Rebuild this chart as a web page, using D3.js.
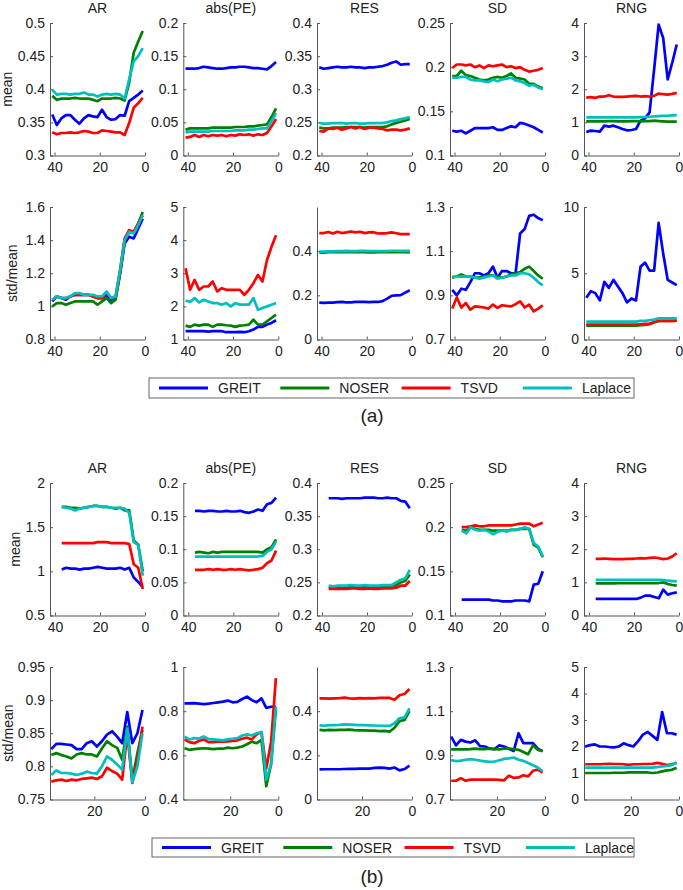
<!DOCTYPE html>
<html><head><meta charset="utf-8">
<script src="https://cdn.jsdelivr.net/npm/d3@7"></script>
<style>
body{margin:0;background:#fff}
svg{display:block}
text{font-family:"Liberation Sans",Arial,Helvetica,sans-serif}
</style>
</head><body>
<svg id="chart" width="683" height="890"></svg>
<script>
// ---------------- data ----------------
const methods = ["GREIT","NOSER","TSVD","Laplace"];
const methodColors = ["#0000ff","#008000","#ff0000","#00bfbf"];
const metrics = ["AR","abs(PE)","RES","SD","RNG"];

const xA = [41,39,37,35,33,31,29,27,25,23,21,19,17,15,13,11,9,7,5,3,1];
const xB = [37,35,33,31,29,27,25,23,21,19,17,15,13,11,9,7,5,3,1];
const xC = [39,37,35,33,31,29,27,25,23,21,19,17,15,13,11,9,7,5,3,1];

const xTicksFull = [40,20,0];
const xTicksShort = [20,0];

// (a) mean
const a_mean_AR = {
  GREIT:  [0.362,0.346,0.356,0.361,0.361,0.354,0.348,0.356,0.361,0.359,0.358,0.369,0.358,0.354,0.355,0.361,0.36,0.382,0.387,0.392,0.398],
  NOSER:  [0.39,0.384,0.386,0.386,0.386,0.387,0.386,0.386,0.386,0.384,0.382,0.386,0.386,0.386,0.387,0.386,0.383,0.41,0.455,0.472,0.488],
  TSVD:   [0.335,0.332,0.334,0.334,0.335,0.334,0.335,0.337,0.336,0.334,0.334,0.338,0.337,0.336,0.335,0.335,0.331,0.349,0.372,0.379,0.387],
  Laplace:[0.399,0.392,0.393,0.393,0.392,0.393,0.393,0.395,0.392,0.392,0.389,0.392,0.393,0.392,0.393,0.392,0.386,0.415,0.442,0.45,0.462]
};
const a_mean_PE = {
  GREIT:  [0.131,0.131,0.131,0.132,0.134,0.133,0.132,0.131,0.131,0.132,0.133,0.133,0.134,0.134,0.133,0.132,0.132,0.131,0.13,0.135,0.141],
  NOSER:  [0.039,0.041,0.041,0.041,0.041,0.041,0.042,0.042,0.042,0.042,0.042,0.043,0.043,0.043,0.044,0.044,0.045,0.046,0.047,0.058,0.071],
  TSVD:   [0.027,0.028,0.031,0.028,0.031,0.029,0.031,0.03,0.031,0.029,0.031,0.03,0.032,0.031,0.032,0.03,0.032,0.031,0.034,0.044,0.055],
  Laplace:[0.035,0.036,0.036,0.036,0.036,0.036,0.037,0.037,0.037,0.037,0.037,0.038,0.038,0.038,0.039,0.039,0.04,0.041,0.041,0.052,0.064]
};
const a_mean_RES = {
  GREIT:  [0.333,0.331,0.332,0.333,0.334,0.333,0.333,0.334,0.333,0.333,0.332,0.333,0.333,0.334,0.335,0.337,0.34,0.342,0.337,0.338,0.338],
  NOSER:  [0.242,0.241,0.241,0.242,0.242,0.242,0.243,0.243,0.243,0.243,0.242,0.243,0.243,0.243,0.243,0.244,0.247,0.249,0.251,0.253,0.255],
  TSVD:   [0.237,0.236,0.241,0.24,0.242,0.239,0.241,0.243,0.241,0.243,0.24,0.242,0.242,0.241,0.24,0.238,0.239,0.239,0.238,0.239,0.241],
  Laplace:[0.249,0.248,0.248,0.249,0.249,0.249,0.248,0.249,0.249,0.248,0.248,0.249,0.249,0.249,0.249,0.25,0.252,0.253,0.255,0.256,0.258]
};
const a_mean_SD = {
  GREIT:  [0.128,0.127,0.128,0.125,0.128,0.131,0.131,0.131,0.131,0.132,0.129,0.129,0.131,0.133,0.132,0.137,0.136,0.134,0.132,0.129,0.126],
  NOSER:  [0.19,0.19,0.196,0.191,0.19,0.188,0.186,0.185,0.186,0.188,0.189,0.188,0.19,0.193,0.188,0.187,0.186,0.181,0.181,0.178,0.176],
  TSVD:   [0.199,0.203,0.203,0.202,0.203,0.2,0.202,0.199,0.202,0.201,0.202,0.203,0.2,0.201,0.199,0.2,0.197,0.195,0.196,0.197,0.199],
  Laplace:[0.188,0.188,0.189,0.189,0.186,0.185,0.185,0.184,0.183,0.186,0.184,0.186,0.187,0.188,0.185,0.184,0.182,0.179,0.18,0.177,0.175]
};
const a_mean_RNG = {
  GREIT:  [0.71,0.75,0.74,0.72,0.9,0.87,0.9,0.85,0.8,0.76,0.77,0.8,1.05,1.12,1.3,2.6,3.95,3.55,2.3,2.8,3.35],
  NOSER:  [1.03,1.03,1.03,1.03,1.03,1.04,1.04,1.03,1.03,1.03,1.04,1.04,1.03,1.04,1.04,1.05,1.04,1.03,1.02,1.02,1.02],
  TSVD:   [1.75,1.76,1.74,1.78,1.78,1.82,1.78,1.77,1.77,1.78,1.79,1.8,1.78,1.79,1.78,1.8,1.87,1.85,1.84,1.86,1.89],
  Laplace:[1.15,1.15,1.15,1.15,1.15,1.15,1.15,1.15,1.15,1.15,1.15,1.15,1.16,1.16,1.17,1.18,1.19,1.2,1.2,1.21,1.22]
};

// (a) std/mean
const a_std_AR = {
  GREIT:  [1.03,1.06,1.05,1.04,1.06,1.07,1.07,1.07,1.07,1.06,1.05,1.05,1.07,1.04,1.05,1.2,1.38,1.42,1.41,1.47,1.53],
  NOSER:  [1.0,1.02,1.02,1.01,1.02,1.03,1.03,1.03,1.03,1.03,1.01,1.03,1.05,1.02,1.04,1.2,1.4,1.45,1.45,1.5,1.57],
  TSVD:   [1.04,1.06,1.05,1.05,1.06,1.07,1.07,1.07,1.07,1.06,1.05,1.05,1.08,1.05,1.06,1.22,1.41,1.46,1.45,1.5,1.55],
  Laplace:[1.04,1.06,1.05,1.05,1.06,1.08,1.08,1.07,1.07,1.07,1.06,1.06,1.09,1.05,1.06,1.22,1.4,1.45,1.44,1.49,1.55]
};
const a_std_PE = {
  GREIT:  [1.25,1.25,1.25,1.25,1.25,1.24,1.25,1.25,1.25,1.22,1.22,1.22,1.23,1.22,1.25,1.3,1.38,1.38,1.45,1.5,1.58],
  NOSER:  [1.42,1.38,1.45,1.42,1.45,1.45,1.38,1.45,1.45,1.43,1.42,1.38,1.42,1.43,1.45,1.6,1.45,1.45,1.55,1.65,1.75],
  TSVD:   [3.15,2.5,2.8,2.5,2.6,2.6,2.75,2.45,2.55,2.5,2.5,2.5,2.5,2.35,2.5,2.7,2.95,2.75,3.4,3.8,4.15],
  Laplace:[2.18,2.13,2.25,2.12,2.2,2.15,2.1,2.1,2.05,2.1,2.0,2.1,2.05,2.05,2.05,2.25,1.9,1.95,2.0,2.05,2.1]
};
const a_std_RES = {
  GREIT:  [0.167,0.166,0.167,0.167,0.169,0.17,0.168,0.168,0.17,0.17,0.17,0.169,0.17,0.17,0.174,0.185,0.198,0.2,0.201,0.212,0.223],
  NOSER:  [0.394,0.393,0.395,0.395,0.395,0.396,0.396,0.396,0.396,0.397,0.396,0.394,0.394,0.395,0.395,0.395,0.397,0.396,0.395,0.395,0.394],
  TSVD:   [0.482,0.482,0.487,0.48,0.488,0.482,0.485,0.489,0.485,0.488,0.482,0.485,0.486,0.48,0.481,0.482,0.485,0.481,0.477,0.477,0.477],
  Laplace:[0.398,0.398,0.399,0.399,0.4,0.4,0.401,0.4,0.4,0.401,0.401,0.4,0.4,0.4,0.4,0.4,0.402,0.402,0.401,0.401,0.401]
};
const a_std_SD = {
  GREIT:  [0.925,0.9,0.93,0.925,0.96,1.0,1.0,0.99,1.0,1.03,0.98,1.01,1.01,1.0,1.0,1.18,1.2,1.26,1.265,1.25,1.24],
  NOSER:  [0.98,0.985,0.995,0.985,0.985,0.98,0.98,0.985,0.99,0.99,0.985,0.98,0.985,0.995,1.0,1.005,1.02,1.03,1.01,0.99,0.975],
  TSVD:   [0.84,0.89,0.845,0.865,0.835,0.85,0.848,0.845,0.84,0.858,0.843,0.855,0.852,0.85,0.86,0.873,0.845,0.858,0.827,0.84,0.855],
  Laplace:[0.985,0.985,0.985,0.985,0.985,0.98,0.975,0.98,0.985,0.99,0.975,0.98,0.985,0.99,0.99,1.0,1.0,0.995,0.98,0.96,0.945]
};
const a_std_RNG = {
  GREIT:  [3.15,3.65,3.5,2.95,4.35,3.9,4.5,4.0,3.5,2.8,3.1,2.95,5.5,5.8,5.2,5.2,8.8,6.5,4.5,4.3,4.1],
  NOSER:  [1.05,1.05,1.05,1.05,1.05,1.05,1.05,1.05,1.05,1.05,1.05,1.05,1.08,1.1,1.15,1.3,1.4,1.4,1.4,1.4,1.42],
  TSVD:   [1.12,1.12,1.12,1.12,1.12,1.12,1.12,1.12,1.12,1.12,1.12,1.12,1.15,1.18,1.2,1.3,1.4,1.4,1.4,1.4,1.42],
  Laplace:[1.35,1.35,1.35,1.35,1.35,1.35,1.35,1.35,1.35,1.35,1.35,1.35,1.4,1.4,1.45,1.5,1.6,1.6,1.6,1.6,1.6]
};

// (b) mean
const b_mean_AR = {
  GREIT:  [1.02,1.04,1.03,1.03,1.02,1.03,1.03,1.04,1.05,1.04,1.03,1.03,1.03,1.04,1.02,1.04,0.93,0.88,0.82],
  NOSER:  [1.73,1.73,1.72,1.72,1.71,1.72,1.73,1.74,1.74,1.73,1.73,1.72,1.71,1.72,1.69,1.69,1.35,1.3,1.0],
  TSVD:   [1.32,1.32,1.32,1.32,1.32,1.32,1.32,1.32,1.33,1.33,1.33,1.32,1.32,1.32,1.32,1.31,1.08,1.04,0.8],
  Laplace:[1.73,1.72,1.71,1.69,1.71,1.72,1.73,1.74,1.74,1.73,1.73,1.72,1.72,1.72,1.71,1.66,1.33,1.3,0.95]
};
const b_mean_PE = {
  GREIT:  [0.158,0.158,0.157,0.158,0.158,0.157,0.157,0.158,0.157,0.157,0.158,0.156,0.155,0.157,0.16,0.158,0.168,0.17,0.178],
  NOSER:  [0.095,0.096,0.095,0.094,0.096,0.095,0.096,0.096,0.096,0.096,0.096,0.096,0.096,0.096,0.096,0.095,0.1,0.103,0.115],
  TSVD:   [0.069,0.069,0.069,0.07,0.069,0.07,0.069,0.069,0.07,0.069,0.07,0.069,0.068,0.069,0.07,0.072,0.079,0.083,0.098],
  Laplace:[0.089,0.089,0.089,0.089,0.089,0.089,0.089,0.089,0.089,0.089,0.089,0.089,0.089,0.089,0.089,0.09,0.096,0.1,0.112]
};
const b_mean_RES = {
  GREIT:  [0.377,0.377,0.377,0.376,0.377,0.377,0.377,0.377,0.378,0.378,0.378,0.377,0.377,0.378,0.377,0.377,0.373,0.372,0.362],
  NOSER:  [0.242,0.242,0.243,0.242,0.243,0.243,0.243,0.242,0.243,0.243,0.243,0.242,0.243,0.243,0.243,0.246,0.25,0.252,0.262],
  TSVD:   [0.24,0.24,0.24,0.24,0.24,0.241,0.241,0.24,0.24,0.241,0.24,0.24,0.241,0.241,0.241,0.242,0.245,0.245,0.252],
  Laplace:[0.245,0.244,0.245,0.245,0.245,0.246,0.245,0.245,0.246,0.245,0.245,0.245,0.246,0.246,0.246,0.25,0.254,0.256,0.269]
};
const b_mean_SD = {
  GREIT:  [0.118,0.118,0.118,0.118,0.118,0.118,0.118,0.117,0.117,0.116,0.116,0.116,0.117,0.117,0.117,0.116,0.135,0.136,0.15],
  NOSER:  [0.197,0.196,0.2,0.198,0.197,0.197,0.197,0.196,0.196,0.196,0.196,0.197,0.197,0.198,0.198,0.198,0.18,0.177,0.166],
  TSVD:   [0.2,0.2,0.201,0.202,0.201,0.201,0.202,0.202,0.202,0.202,0.202,0.202,0.203,0.204,0.204,0.204,0.201,0.203,0.205],
  Laplace:[0.196,0.193,0.2,0.197,0.196,0.197,0.195,0.192,0.195,0.196,0.195,0.197,0.197,0.198,0.2,0.198,0.182,0.178,0.167]
};
const b_mean_RNG = {
  GREIT:  [0.5,0.5,0.5,0.5,0.5,0.5,0.5,0.5,0.5,0.5,0.54,0.6,0.6,0.56,0.52,0.78,0.63,0.67,0.7],
  NOSER:  [0.97,0.97,0.97,0.97,0.97,0.98,0.98,0.98,0.98,0.98,0.98,0.98,0.98,0.98,0.98,1.0,0.95,0.92,0.9],
  TSVD:   [1.71,1.71,1.72,1.71,1.7,1.7,1.7,1.71,1.71,1.72,1.73,1.72,1.74,1.75,1.73,1.7,1.72,1.78,1.88],
  Laplace:[1.08,1.08,1.08,1.08,1.08,1.08,1.08,1.08,1.08,1.08,1.08,1.08,1.08,1.08,1.08,1.07,1.05,1.04,1.03]
};

// (b) std/mean
const b_std_AR = {
  GREIT:  [0.826,0.834,0.834,0.833,0.832,0.826,0.826,0.835,0.838,0.83,0.838,0.848,0.853,0.845,0.835,0.882,0.835,0.85,0.885],
  NOSER:  [0.817,0.82,0.817,0.815,0.812,0.818,0.82,0.818,0.818,0.815,0.827,0.838,0.832,0.828,0.81,0.86,0.78,0.82,0.855],
  TSVD:   [0.777,0.779,0.78,0.778,0.78,0.779,0.781,0.782,0.783,0.781,0.785,0.798,0.793,0.789,0.78,0.85,0.775,0.81,0.86],
  Laplace:[0.787,0.794,0.79,0.79,0.789,0.787,0.789,0.792,0.79,0.789,0.8,0.815,0.81,0.803,0.795,0.857,0.776,0.8,0.85]
};
const b_std_PE = {
  GREIT:  [0.835,0.835,0.836,0.834,0.832,0.834,0.837,0.84,0.843,0.848,0.84,0.842,0.855,0.866,0.85,0.84,0.858,0.815,0.82,0.82],
  NOSER:  [0.632,0.625,0.628,0.63,0.632,0.63,0.628,0.63,0.63,0.635,0.632,0.635,0.64,0.65,0.662,0.655,0.67,0.46,0.56,0.81],
  TSVD:   [0.672,0.66,0.655,0.665,0.672,0.66,0.66,0.662,0.662,0.663,0.665,0.668,0.675,0.68,0.672,0.695,0.705,0.54,0.66,0.95],
  Laplace:[0.685,0.672,0.678,0.676,0.685,0.674,0.672,0.67,0.668,0.672,0.675,0.678,0.69,0.695,0.69,0.7,0.705,0.49,0.56,0.82]
};
const b_std_RES = {
  GREIT:  [0.136,0.137,0.137,0.137,0.137,0.138,0.139,0.139,0.14,0.14,0.14,0.143,0.144,0.143,0.14,0.145,0.132,0.138,0.153],
  NOSER:  [0.315,0.313,0.315,0.314,0.315,0.315,0.316,0.314,0.313,0.313,0.312,0.312,0.31,0.311,0.307,0.325,0.355,0.36,0.4],
  TSVD:   [0.458,0.458,0.457,0.458,0.459,0.461,0.458,0.457,0.459,0.458,0.459,0.458,0.46,0.46,0.46,0.452,0.472,0.478,0.5],
  Laplace:[0.336,0.334,0.337,0.337,0.338,0.34,0.339,0.338,0.337,0.337,0.336,0.335,0.334,0.333,0.333,0.345,0.368,0.372,0.413]
};
const b_std_SD = {
  GREIT:  [0.985,0.945,0.97,0.962,0.958,0.968,0.942,0.94,0.93,0.928,0.945,0.94,0.93,0.92,1.0,0.955,0.955,0.955,0.93,0.918],
  NOSER:  [0.927,0.927,0.927,0.927,0.928,0.93,0.928,0.928,0.93,0.928,0.927,0.93,0.93,0.928,0.925,0.915,0.905,0.945,0.925,0.92],
  TSVD:   [0.785,0.785,0.797,0.785,0.79,0.79,0.79,0.79,0.79,0.79,0.789,0.787,0.808,0.798,0.8,0.81,0.805,0.83,0.835,0.822],
  Laplace:[0.878,0.874,0.876,0.88,0.883,0.88,0.876,0.873,0.87,0.872,0.878,0.884,0.886,0.89,0.88,0.875,0.865,0.855,0.845,0.828]
};
const b_std_RNG = {
  GREIT:  [2.0,2.05,2.08,2.0,2.0,1.98,1.97,2.0,2.12,2.05,2.0,2.2,2.45,2.55,2.4,2.25,3.3,2.5,2.5,2.45],
  NOSER:  [1.0,1.0,1.0,1.0,1.0,1.0,1.01,1.01,1.01,1.02,1.02,1.02,1.02,1.02,1.0,1.02,1.06,1.1,1.12,1.2],
  TSVD:   [1.33,1.33,1.33,1.33,1.34,1.35,1.34,1.34,1.33,1.31,1.33,1.33,1.34,1.34,1.35,1.38,1.35,1.3,1.33,1.38],
  Laplace:[1.2,1.2,1.2,1.2,1.2,1.2,1.2,1.2,1.2,1.2,1.2,1.2,1.2,1.2,1.2,1.22,1.25,1.27,1.3,1.4]
};

// axis limits and ticks per row (columns: AR, abs(PE), RES, SD, RNG)
const yDomain_a_mean = [[0.3,0.5],[0,0.2],[0.2,0.4],[0.1,0.25],[0,4]];
const yTicks_a_mean  = [[0.3,0.35,0.4,0.45,0.5],[0,0.05,0.1,0.15,0.2],[0.2,0.25,0.3,0.35,0.4],[0.1,0.15,0.2,0.25],[0,1,2,3,4]];
const yDomain_a_std  = [[0.8,1.6],[1,5],[0,0.6],[0.7,1.3],[0,10]];
const yTicks_a_std   = [[0.8,1,1.2,1.4,1.6],[1,2,3,4,5],[0,0.2,0.4],[0.7,0.9,1.1,1.3],[0,5,10]];
const yDomain_b_mean = [[0.5,2],[0,0.2],[0.2,0.4],[0.1,0.25],[0,4]];
const yTicks_b_mean  = [[0.5,1,1.5,2],[0,0.05,0.1,0.15,0.2],[0.2,0.25,0.3,0.35,0.4],[0.1,0.15,0.2,0.25],[0,1,2,3,4]];
const yDomain_b_std  = [[0.75,0.95],[0.4,1],[0,0.6],[0.7,1.3],[0,5]];
const yTicks_b_std   = [[0.75,0.8,0.85,0.9,0.95],[0.4,0.6,0.8,1],[0,0.2,0.4],[0.7,0.9,1.1,1.3],[0,1,2,3,4,5]];
const xMax_a = [42,42,42,42,42];
const xMax_b_mean = [42.2,42.2,42.2,42.2,42.2];
const xMax_b_std = [37.5,39.5,38,39.5,39.5];

// ---------------- layout ----------------
const svg = d3.select("#chart");
const colLeft = [50, 183.3, 317, 450, 584];
const plotW = 95, plotH = 132.5;

const rows = [
  {top:23,  label:"mean",     labelX:12, titles:true,  data:[a_mean_AR,a_mean_PE,a_mean_RES,a_mean_SD,a_mean_RNG], x:[xA,xA,xA,xA,xA], xMax:xMax_a, yDom:yDomain_a_mean, yTicks:yTicks_a_mean, xTicks:xTicksFull},
  {top:207, label:"std/mean", labelX:17, titles:false, data:[a_std_AR,a_std_PE,a_std_RES,a_std_SD,a_std_RNG], x:[xA,xA,xA,xA,xA], xMax:xMax_a, yDom:yDomain_a_std, yTicks:yTicks_a_std, xTicks:xTicksFull},
  {top:483, label:"mean",     labelX:20, titles:true,  data:[b_mean_AR,b_mean_PE,b_mean_RES,b_mean_SD,b_mean_RNG], x:[xB,xB,xB,xB,xB], xMax:xMax_b_mean, yDom:yDomain_b_mean, yTicks:yTicks_b_mean, xTicks:xTicksFull},
  {top:667, label:"std/mean", labelX:13, titles:false, data:[b_std_AR,b_std_PE,b_std_RES,b_std_SD,b_std_RNG], x:[xB,xC,xB,xC,xC], xMax:xMax_b_std, yDom:yDomain_b_std, yTicks:yTicks_b_std, xTicks:xTicksShort}
];

const fmt = d3.format("~g");
const axisColor = "#555";

rows.forEach(row => {
  svg.append("text")
    .attr("transform", `translate(${row.labelX},${row.top + plotH/2}) rotate(-90)`)
    .attr("text-anchor","middle")
    .attr("font-size",14).attr("fill","#222")
    .text(row.label);

  metrics.forEach((m, ci) => {
    const left = colLeft[ci];
    const x = d3.scaleLinear().domain([row.xMax[ci], 0]).range([left, left + plotW]);
    const y = d3.scaleLinear().domain(row.yDom[ci]).range([row.top + plotH, row.top]);
    const g = svg.append("g");

    if (row.titles) {
      g.append("text")
        .attr("x", left + plotW/2).attr("y", row.top - 10.5)
        .attr("text-anchor","middle").attr("font-size",14).attr("fill","#222")
        .text(m);
    }

    const xAxis = d3.axisBottom(x).tickValues(row.xTicks).tickFormat(fmt)
      .tickSizeInner(-3).tickSizeOuter(0).tickPadding(7);
    const yAxis = d3.axisLeft(y).tickValues(row.yTicks[ci]).tickFormat(fmt)
      .tickSizeInner(-3).tickSizeOuter(0).tickPadding(5);

    const gx = g.append("g").attr("transform", `translate(0,${row.top + plotH})`).call(xAxis);
    const gy = g.append("g").attr("transform", `translate(${left},0)`).call(yAxis);
    [gx, gy].forEach(a => {
      a.select(".domain").attr("stroke", axisColor);
      a.selectAll(".tick line").attr("stroke", axisColor);
      a.selectAll(".tick text").attr("fill","#222").attr("font-size",14)
        .attr("font-family",'"Liberation Sans",Arial,sans-serif');
    });

    const line = d3.line().x((d,i) => x(row.x[ci][i])).y(d => y(d));
    methods.forEach((meth, mi) => {
      g.append("path")
        .datum(row.data[ci][meth])
        .attr("d", line)
        .attr("fill","none")
        .attr("stroke", methodColors[mi])
        .attr("stroke-width", 2.7)
        .attr("stroke-linejoin","round");
    });
  });
});

// ---------------- legends ----------------
function legend(x0, y0, w, h) {
  const g = svg.append("g");
  g.append("rect").attr("x", x0).attr("y", y0).attr("width", w).attr("height", h)
    .attr("fill","#fff").attr("stroke","#666").attr("stroke-width",1);
  methods.forEach((meth, i) => {
    const lx = x0 + 10 + i * 121.3;
    g.append("line").attr("x1", lx).attr("x2", lx + 49)
      .attr("y1", y0 + h/2).attr("y2", y0 + h/2)
      .attr("stroke", methodColors[i]).attr("stroke-width", 3);
    g.append("text").attr("x", lx + 59).attr("y", y0 + h/2 + 5)
      .attr("font-size",14).attr("fill","#222").text(meth);
  });
}
legend(149, 378, 485, 20);
legend(152, 838, 482, 19);

svg.append("text").attr("x", 372).attr("y", 422).attr("text-anchor","middle")
  .attr("font-family",'"Liberation Serif","Times New Roman",serif').attr("font-size",19).attr("fill","#222").text("(a)");
svg.append("text").attr("x", 372).attr("y", 883).attr("text-anchor","middle")
  .attr("font-family",'"Liberation Serif","Times New Roman",serif').attr("font-size",19).attr("fill","#222").text("(b)");
</script>
</body></html>
